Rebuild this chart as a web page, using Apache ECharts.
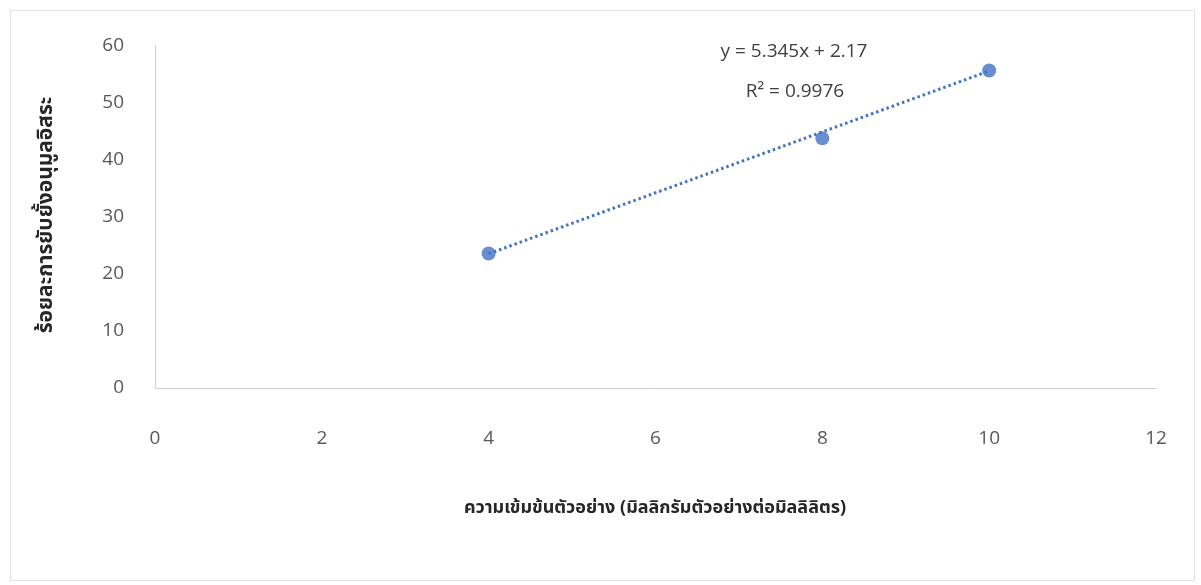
<!DOCTYPE html>
<html>
<head>
<meta charset="utf-8">
<script src="https://cdn.jsdelivr.net/npm/echarts@6/dist/echarts.min.js"></script>
<style>html,body{margin:0;padding:0;background:#fff}#c{width:1201px;height:585px}</style>
</head>
<body>
<div id="c"></div>
<script>
// Data
const concentrations = [4, 8, 10];
const inhibition = [23.6, 43.8, 55.7];
const trendX = [4, 10];
const trendY = [23.55, 55.62];
const xTicks = [0, 2, 4, 6, 8, 10, 12];
const yTicks = [0, 10, 20, 30, 40, 50, 60];
const equationText = 'y = 5.345x + 2.17';
const r2Text = 'R² = 0.9976';
const xTitle = 'ความเข้มข้นตัวอย่าง (มิลลิกรัมตัวอย่างต่อมิลลิลิตร)';
const yTitle = 'ร้อยละการยับยั้งอนุมูลอิสระ';

const chart = echarts.init(document.getElementById('c'));
const font = '"Open Sans", "Noto Sans", "Noto Sans Thai", sans-serif';
chart.setOption({
  backgroundColor: '#ffffff',
  animation: false,
  grid: { left: 155, right: 45, top: 46, bottom: 197 },
  xAxis: {
    type: 'value', min: xTicks[0], max: xTicks[xTicks.length - 1], interval: 2,
    axisLine: { show: true, lineStyle: { color: '#d0d0d0', width: 1 } },
    axisTick: { show: false },
    splitLine: { show: false },
    axisLabel: { color: '#595959', fontSize: 19, fontFamily: font, margin: 41 }
  },
  yAxis: {
    type: 'value', min: yTicks[0], max: yTicks[yTicks.length - 1], interval: 10,
    axisLine: { show: true, lineStyle: { color: '#d0d0d0', width: 1 } },
    axisTick: { show: false },
    splitLine: { show: false },
    axisLabel: { color: '#595959', fontSize: 19, fontFamily: font, margin: 31 }
  },
  graphic: [
    { type: 'rect', left: 8, top: 8, shape: { width: 1184, height: 570 }, style: { fill: 'none', stroke: '#e2e2e2', lineWidth: 1 }, silent: true },
    { type: 'text', x: 794, y: 52, style: { text: equationText, fill: '#404040', font: '19px ' + font, textAlign: 'center', textVerticalAlign: 'middle' } },
    { type: 'text', x: 795, y: 92, style: { text: r2Text, fill: '#404040', font: '19px ' + font, textAlign: 'center', textVerticalAlign: 'middle' } },
    { type: 'text', x: 655, y: 508, style: { text: xTitle, fill: '#262626', font: 'bold 18px ' + font, textAlign: 'center', textVerticalAlign: 'middle' } },
    { type: 'text', x: 46, y: 215, rotation: Math.PI / 2, style: { text: yTitle, fill: '#262626', font: 'bold 21px ' + font, textAlign: 'center', textVerticalAlign: 'middle' } }
  ],
  series: [
    {
      type: 'line',
      data: trendX.map((x, i) => [x, trendY[i]]),
      symbol: 'none',
      lineStyle: { color: '#4472C4', width: 3, type: [2.5, 3] },
      z: 2
    },
    {
      type: 'scatter',
      data: concentrations.map((x, i) => [x, inhibition[i]]),
      symbol: 'circle',
      symbolSize: 14,
      itemStyle: { color: '#4472C4' },
      z: 3
    }
  ]
});
</script>
</body>
</html>
